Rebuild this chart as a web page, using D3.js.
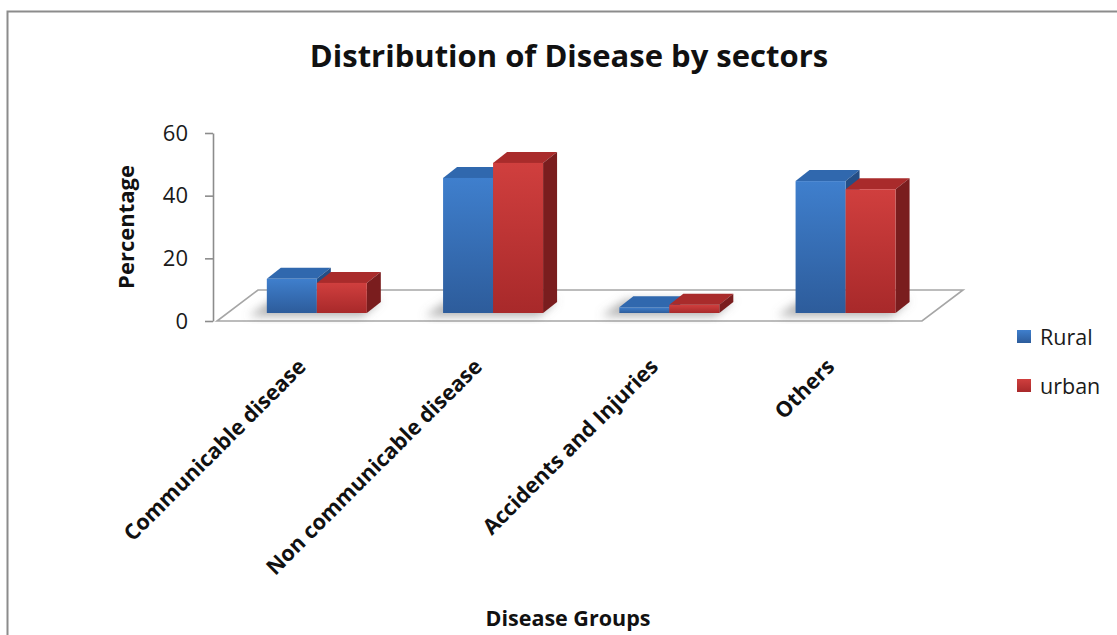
<!DOCTYPE html>
<html>
<head>
<meta charset="utf-8">
<script src="https://cdn.jsdelivr.net/npm/d3@7"></script>
<style>
  body { margin: 0; background: #fff; }
  svg { display: block; font-family: "Open Sans", sans-serif; }
</style>
</head>
<body>
<div class="chart"></div>
<script>
// data
const categories = ['Communicable disease', 'Non communicable disease', 'Accidents and Injuries', 'Others'];
const series = ['Rural', 'urban'];
const rural = [10.9, 43.1, 1.8, 42.1];
const urban = [9.6, 47.9, 2.6, 39.5];
const yTicks = [0, 20, 40, 60];

const values = { Rural: rural, urban: urban };
const palette = {
    Rural: { light: '#3f7fcd', dark: '#2d5c9b', top: '#3068ae', side: '#244e86' },
    urban: { light: '#d03f3e', dark: '#a8292a', top: '#a92b2b', side: '#7a1d1e' }
};

const width = 1117, height = 635;
const svg = d3.select('.chart').append('svg').attr('width', width).attr('height', height);

// gradients + shadow blur
const defs = svg.append('defs');
series.forEach(s => {
    const g = defs.append('linearGradient').attr('id', 'grad-' + s)
        .attr('x1', 0).attr('y1', 0).attr('x2', 0).attr('y2', 1);
    g.append('stop').attr('offset', '0%').attr('stop-color', palette[s].light);
    g.append('stop').attr('offset', '100%').attr('stop-color', palette[s].dark);
});
defs.append('filter').attr('id', 'blur').attr('x', '-50%').attr('y', '-50%').attr('width', '200%').attr('height', '200%')
    .append('feGaussianBlur').attr('stdDeviation', 5);

// outer border of the chart area
svg.append('rect').attr('x', 7.5).attr('y', 11.5).attr('width', 1130).attr('height', 650)
    .attr('fill', 'none').attr('stroke', '#8c8c8c').attr('stroke-width', 2);

// scales
const x = d3.scaleBand().domain(categories).range([218, 923]);
const inner = d3.scaleBand().domain(series).range([0, 100]);
const groupPad = (x.bandwidth() - 100) / 2;
const y = d3.scaleLinear().domain([0, 60]).range([321, 133]);

const floorDepth = [41, -31];   // back edge of the floor
const barShift = [10.7, -8];    // bars stand a bit into the floor
const barDepth = [14, -11];     // thickness of a bar

// floor
const f0 = x.range()[0] - 1, f1 = x.range()[1] - 1, fy = y(0);
svg.append('polygon')
    .attr('points', [[f0, fy], [f1, fy], [f1 + floorDepth[0], fy + floorDepth[1]], [f0 + floorDepth[0], fy + floorDepth[1]]].join(' '))
    .attr('fill', '#fff').attr('stroke', '#a6a6a6').attr('stroke-width', 1.6);

// y axis
const yAxis = d3.axisLeft(y).tickValues(yTicks).tickSize(8).tickSizeOuter(0).tickPadding(17);
const yAxisDraw = svg.append('g').attr('transform', 'translate(213,0)').call(yAxis);
yAxisDraw.select('.domain').attr('stroke', '#8c8c8c').attr('stroke-width', 1.6);
yAxisDraw.selectAll('.tick line').attr('stroke', '#8c8c8c').attr('stroke-width', 1.6);
yAxisDraw.selectAll('.tick text').attr('font-size', 22).attr('fill', '#1a1a1a')
    .attr('font-family', '"Open Sans", sans-serif');

// flatten to one record per bar
const bars = [];
categories.forEach((c, i) => series.forEach(s => bars.push({ cat: c, s: s, v: values[s][i] })));

function barGeom(d) {
    const x0 = x(d.cat) + groupPad + inner(d.s) + barShift[0];
    const w = inner.bandwidth();
    const yt = y(d.v) + barShift[1];
    const yb = y(0) + barShift[1];
    return { x0, w, yt, yb };
}

// soft shadows on the floor
const shadows = svg.append('g').attr('filter', 'url(#blur)');
categories.forEach((c, i) => {
    const x0 = x(c) + groupPad + barShift[0];
    const yb = y(0) + barShift[1];
    shadows.append('polygon')
        .attr('points', [[x0 - 18, yb + 3], [x0 + 96, yb + 3], [x0 + 100 + barDepth[0], yb + barDepth[1] - 2], [x0 + barDepth[0] - 8, yb + barDepth[1] - 2]].join(' '))
        .attr('fill', '#7a7a7a').attr('opacity', 0.6);
});

// bars: top, side, front
const barG = svg.append('g').selectAll('g').data(bars).join('g');
barG.append('polygon')
    .attr('points', d => {
        const g = barGeom(d);
        return [[g.x0, g.yt], [g.x0 + g.w, g.yt], [g.x0 + g.w + barDepth[0], g.yt + barDepth[1]], [g.x0 + barDepth[0], g.yt + barDepth[1]]].join(' ');
    })
    .attr('fill', d => palette[d.s].top);
barG.append('polygon')
    .attr('points', d => {
        const g = barGeom(d);
        return [[g.x0 + g.w, g.yt], [g.x0 + g.w + barDepth[0], g.yt + barDepth[1]], [g.x0 + g.w + barDepth[0], g.yb + barDepth[1]], [g.x0 + g.w, g.yb]].join(' ');
    })
    .attr('fill', d => palette[d.s].side);
barG.append('rect')
    .attr('x', d => barGeom(d).x0)
    .attr('y', d => barGeom(d).yt)
    .attr('width', d => barGeom(d).w)
    .attr('height', d => barGeom(d).yb - barGeom(d).yt)
    .attr('fill', d => 'url(#grad-' + d.s + ')');

// category labels, rotated
svg.append('g').selectAll('text').data(categories).join('text')
    .attr('transform', d => `translate(${x(d) + x.bandwidth() / 2 + 1},368) rotate(-45)`)
    .attr('text-anchor', 'end')
    .attr('font-size', 21.5).attr('font-weight', 'bold').attr('fill', '#111')
    .text(d => d);

// title
svg.append('text').attr('x', 569).attr('y', 67).attr('text-anchor', 'middle')
    .attr('font-size', 31).attr('font-weight', 'bold').attr('fill', '#111')
    .text('Distribution of Disease by sectors');

// axis titles
svg.append('text').attr('transform', 'translate(134,227) rotate(-90)').attr('text-anchor', 'middle')
    .attr('font-size', 22).attr('font-weight', 'bold').attr('fill', '#111')
    .text('Percentage');
svg.append('text').attr('x', 568).attr('y', 626).attr('text-anchor', 'middle')
    .attr('font-size', 21.5).attr('font-weight', 'bold').attr('fill', '#111')
    .text('Disease Groups');

// legend
const legend = svg.append('g').attr('transform', 'translate(1017,330)')
    .selectAll('g').data(series).join('g')
    .attr('transform', (d, i) => `translate(0,${i * 49})`);
legend.append('rect').attr('width', 14).attr('height', 13)
    .attr('fill', d => 'url(#grad-' + d + ')');
legend.append('text').attr('x', 23).attr('y', 15)
    .attr('font-size', 21.5).attr('fill', '#1a1a1a')
    .text(d => d);
</script>
</body>
</html>
